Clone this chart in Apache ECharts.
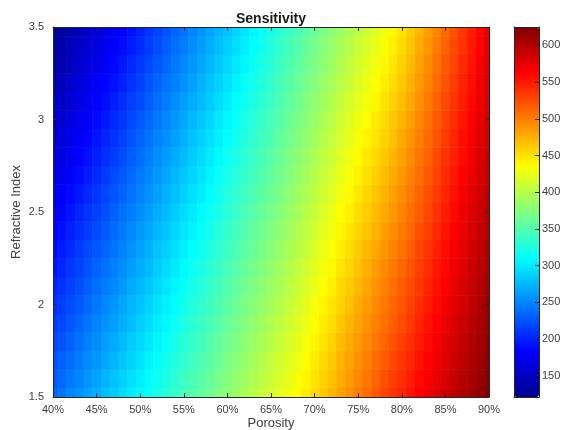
<!DOCTYPE html>
<html><head><meta charset="utf-8">
<script src="https://cdn.jsdelivr.net/npm/echarts@6/dist/echarts.min.js"></script>
<style>html,body{margin:0;padding:0;background:#fff}#c{width:564px;height:430px}</style>
</head><body><div id="c"></div>
<script>
// Grid axes: porosity (%) and refractive index
const porosity = [40,41,42,43,44,45,46,47,48,49,50,51,52,53,54,55,56,57,58,59,60,61,62,63,64,65,66,67,68,69,70,71,72,73,74,75,76,77,78,79,80,81,82,83,84,85,86,87,88,89,90];
const refractiveIndex = [1.5,1.6,1.7,1.8,1.9,2.0,2.1,2.2,2.3,2.4,2.5,2.6,2.7,2.8,2.9,3.0,3.1,3.2,3.3,3.4,3.5];
// sensitivityByPorosity[j][i] : porosity[j], refractiveIndex[i]
const sensitivityByPorosity = [
  [235,229,224,218,212,207,201,195,189,184,178,172,167,161,155,150,144,138,132,127,121],
  [242,236,231,225,219,214,208,202,197,191,186,180,174,169,163,157,152,146,140,135,129],
  [249,243,238,232,227,221,215,210,204,199,193,187,182,176,171,165,159,154,148,143,137],
  [256,250,245,239,234,228,223,217,212,206,201,195,189,184,178,173,167,162,156,151,145],
  [264,258,253,247,242,236,231,225,220,214,209,203,197,192,186,181,175,170,164,159,153],
  [271,265,260,254,249,243,238,232,227,221,216,210,204,199,193,188,182,177,171,166,160],
  [278,273,267,262,256,251,245,240,234,229,223,218,212,207,201,196,190,185,179,174,168],
  [285,280,274,269,263,258,252,247,241,236,231,225,220,214,209,203,198,192,187,181,176],
  [293,288,282,277,271,266,260,255,249,244,239,233,228,222,217,211,206,200,195,189,184],
  [300,295,289,284,278,273,268,262,257,251,246,241,235,230,224,219,214,208,203,197,192],
  [307,302,296,291,286,280,275,270,264,259,254,248,243,237,232,227,221,216,211,205,200],
  [314,309,304,298,293,288,283,277,272,267,262,256,251,246,241,235,230,225,220,214,209],
  [322,317,312,306,301,296,291,285,280,275,270,264,259,254,249,243,238,233,228,222,217],
  [329,324,319,313,308,303,298,293,287,282,277,272,267,261,256,251,246,241,235,230,225],
  [336,331,326,321,315,310,305,300,295,290,285,279,274,269,264,259,254,248,243,238,233],
  [344,339,334,329,323,318,313,308,303,298,293,287,282,277,272,267,262,256,251,246,241],
  [351,346,341,336,331,326,320,315,310,305,300,295,290,285,280,275,269,264,259,254,249],
  [358,353,348,343,338,333,328,323,318,313,308,302,297,292,287,282,277,272,267,262,257],
  [365,360,355,350,345,340,335,330,325,320,315,310,305,300,295,290,285,280,275,270,265],
  [373,368,363,358,353,348,343,338,333,328,323,318,313,308,303,298,293,288,283,278,273],
  [380,375,370,365,360,355,350,345,340,335,331,326,321,316,311,306,301,296,291,286,281],
  [387,382,377,372,367,363,358,353,348,343,338,333,328,323,318,314,309,304,299,294,289],
  [394,389,384,379,375,370,365,360,355,350,346,341,336,331,326,321,316,312,307,302,297],
  [401,396,391,387,382,377,372,367,363,358,353,348,343,339,334,329,324,319,315,310,305],
  [408,403,399,394,389,384,380,375,370,365,361,356,351,346,342,337,332,327,323,318,313],
  [415,410,406,401,396,392,387,382,377,373,368,363,359,354,349,345,340,335,330,326,321],
  [422,417,413,408,404,399,394,390,385,381,376,371,367,362,358,353,348,344,339,335,330],
  [429,424,420,415,411,406,402,397,393,388,384,379,374,370,365,361,356,352,347,343,338],
  [436,432,427,423,418,414,409,405,400,396,391,387,382,378,373,369,364,360,355,351,346],
  [445,440,436,431,427,422,418,413,409,404,400,395,390,386,381,377,372,368,363,359,354],
  [454,449,445,440,436,431,427,422,418,413,409,404,399,395,390,386,381,377,372,368,363],
  [463,458,454,449,445,440,435,431,426,422,417,412,408,403,399,394,389,385,380,376,371],
  [472,467,463,458,453,449,444,439,435,430,426,421,416,412,407,402,398,393,388,384,379],
  [482,477,473,468,463,458,454,449,444,439,435,430,425,420,416,411,406,401,397,392,387],
  [491,486,481,477,472,467,462,457,453,448,443,438,433,429,424,419,414,409,405,400,395],
  [500,495,490,486,481,476,471,466,462,457,452,447,442,438,433,428,423,418,414,409,404],
  [509,504,499,494,490,485,480,475,470,465,461,456,451,446,441,436,431,427,422,417,412],
  [518,513,508,503,498,494,489,484,479,474,469,464,459,454,449,445,440,435,430,425,420],
  [527,522,517,512,507,503,498,493,488,483,478,473,468,463,458,454,449,444,439,434,429],
  [536,531,526,521,516,512,507,502,497,492,487,482,477,472,467,463,458,453,448,443,438],
  [544,539,535,530,525,520,516,511,506,501,497,492,487,482,478,473,468,463,459,454,449],
  [553,548,544,539,534,530,525,520,516,511,507,502,497,493,488,483,479,474,469,465,460],
  [562,558,553,549,544,540,535,531,526,522,517,513,508,504,499,495,490,486,481,477,472],
  [570,566,561,557,553,549,544,540,536,531,527,523,518,514,510,506,501,497,493,488,484],
  [578,574,570,566,562,558,554,550,546,542,538,533,529,525,521,517,513,509,505,501,497],
  [586,582,578,575,571,567,563,559,556,552,548,544,540,537,533,529,525,521,518,514,510],
  [594,590,587,583,580,576,572,569,565,562,558,554,551,547,544,540,536,533,529,526,522],
  [602,599,595,592,589,585,582,579,575,572,569,565,562,558,555,552,548,545,542,538,535],
  [609,606,603,600,597,594,590,587,584,581,578,575,572,569,566,563,559,556,553,550,547],
  [617,614,611,608,606,603,600,597,594,591,589,586,583,580,577,574,571,569,566,563,560],
  [625,622,620,617,614,612,609,606,604,601,599,596,593,591,588,585,583,580,577,575,572]
];
const colorbarTicks = [150,200,250,300,350,400,450,500,550,600];
const colorMin = 121, colorMax = 625;
const jet = ['#00008f','#0000ff','#0080ff','#00ffff','#80ff80','#ffff00','#ff8000','#ff0000','#800000'];

const cellW = (porosity[1]-porosity[0]) / 2;
const cellH = (refractiveIndex[1]-refractiveIndex[0]) / 2;
const data = [];
porosity.forEach((p,j) => refractiveIndex.forEach((n,i) => data.push([p, n, sensitivityByPorosity[j][i]])));

function renderCell(params, api) {
  const p = api.value(0), n = api.value(1);
  const a = api.coord([p - cellW, n + cellH]);
  const b = api.coord([p + cellW, n - cellH]);
  const cs = params.coordSys;
  const r = echarts.graphic.clipRectByRect(
    {x: a[0], y: a[1], width: b[0]-a[0]+0.6, height: b[1]-a[1]+0.6},
    {x: cs.x, y: cs.y, width: cs.width, height: cs.height});
  if (!r) return;
  return {type: 'rect', shape: r, style: {fill: api.visual('color'), stroke: null}};
}

const axisCol = '#262626', txtCol = '#404040';
const lineStyle = {color: axisCol, width: 1};
const font = 'Liberation Sans, Arial, sans-serif';

const chart = echarts.init(document.getElementById('c'), null, {renderer: 'canvas'});
chart.setOption({
  animation: false,
  backgroundColor: '#fff',
  textStyle: {fontFamily: font},
  title: {text: 'Sensitivity', left: 271, top: 12, padding: 0, textAlign: 'center',
    textStyle: {fontSize: 14, fontWeight: 'bold', color: '#1a1a1a', fontFamily: font}},
  grid: [
    {left: 53, right: 75, top: 27, bottom: 33, outerBoundsMode: 'none', containLabel: false},
    {left: 514, right: 25, top: 27, bottom: 33, outerBoundsMode: 'none', containLabel: false}
  ],
  xAxis: [
    {type: 'value', gridIndex: 0, min: 40, max: 90, interval: 5, position: 'bottom',
     name: 'Porosity', nameLocation: 'middle', nameGap: 20, nameMoveOverlap: false,
     nameTextStyle: {fontSize: 13, color: txtCol, fontFamily: font},
     axisLine: {show: true, onZero: false, lineStyle},
     axisTick: {show: true, inside: true, length: 4, lineStyle},
     axisLabel: {formatter: '{value}%', fontSize: 11, color: txtCol, margin: 7, fontFamily: font},
     splitLine: {show: false}, z: 10},
    {type: 'value', gridIndex: 0, min: 40, max: 90, interval: 5, position: 'top',
     axisLine: {show: true, onZero: false, lineStyle},
     axisTick: {show: true, inside: true, length: 4, lineStyle},
     axisLabel: {show: false}, splitLine: {show: false}, z: 10},
    {type: 'value', gridIndex: 1, min: 0, max: 1, position: 'bottom',
     axisLine: {show: true, onZero: false, lineStyle}, axisTick: {show: false},
     axisLabel: {show: false}, splitLine: {show: false}, z: 10},
    {type: 'value', gridIndex: 1, min: 0, max: 1, position: 'top',
     axisLine: {show: true, onZero: false, lineStyle}, axisTick: {show: false},
     axisLabel: {show: false}, splitLine: {show: false}, z: 10}
  ],
  yAxis: [
    {type: 'value', gridIndex: 0, min: 1.5, max: 3.5, interval: 0.5, position: 'left',
     name: 'Refractive Index', nameLocation: 'middle', nameGap: 30, nameMoveOverlap: false,
     nameTextStyle: {fontSize: 13, color: txtCol, fontFamily: font},
     axisLine: {show: true, onZero: false, lineStyle},
     axisTick: {show: true, inside: true, length: 4, lineStyle},
     axisLabel: {fontSize: 11, color: txtCol, margin: 9, fontFamily: font},
     splitLine: {show: false}, z: 10},
    {type: 'value', gridIndex: 0, min: 1.5, max: 3.5, interval: 0.5, position: 'right',
     axisLine: {show: true, onZero: false, lineStyle},
     axisTick: {show: true, inside: true, length: 4, lineStyle},
     axisLabel: {show: false}, splitLine: {show: false}, z: 10},
    {type: 'value', gridIndex: 1, min: colorMin, max: colorMax, position: 'left',
     axisLine: {show: true, onZero: false, lineStyle}, axisTick: {show: false},
     axisLabel: {show: false}, splitLine: {show: false}, z: 10},
    {type: 'value', gridIndex: 1, min: colorMin, max: colorMax, position: 'right',
     axisLine: {show: true, onZero: false, lineStyle},
     axisTick: {show: true, inside: true, length: 4, lineStyle, customValues: colorbarTicks},
     axisLabel: {fontSize: 11, color: txtCol, margin: 3, fontFamily: font, customValues: colorbarTicks},
     splitLine: {show: false}, z: 10}
  ],
  visualMap: {
    type: 'continuous', min: colorMin, max: colorMax, dimension: 2, seriesIndex: 0,
    inRange: {color: jet}, calculable: false, orient: 'vertical',
    left: 514, top: 27, itemWidth: 25, itemHeight: 370, padding: 0,
    hoverLink: false, textStyle: {color: 'transparent'}
  },
  series: [{
    type: 'custom', xAxisIndex: 0, yAxisIndex: 0,
    renderItem: renderCell, encode: {x: 0, y: 1}, data: data, z: 2
  }]
});
</script></body></html>
